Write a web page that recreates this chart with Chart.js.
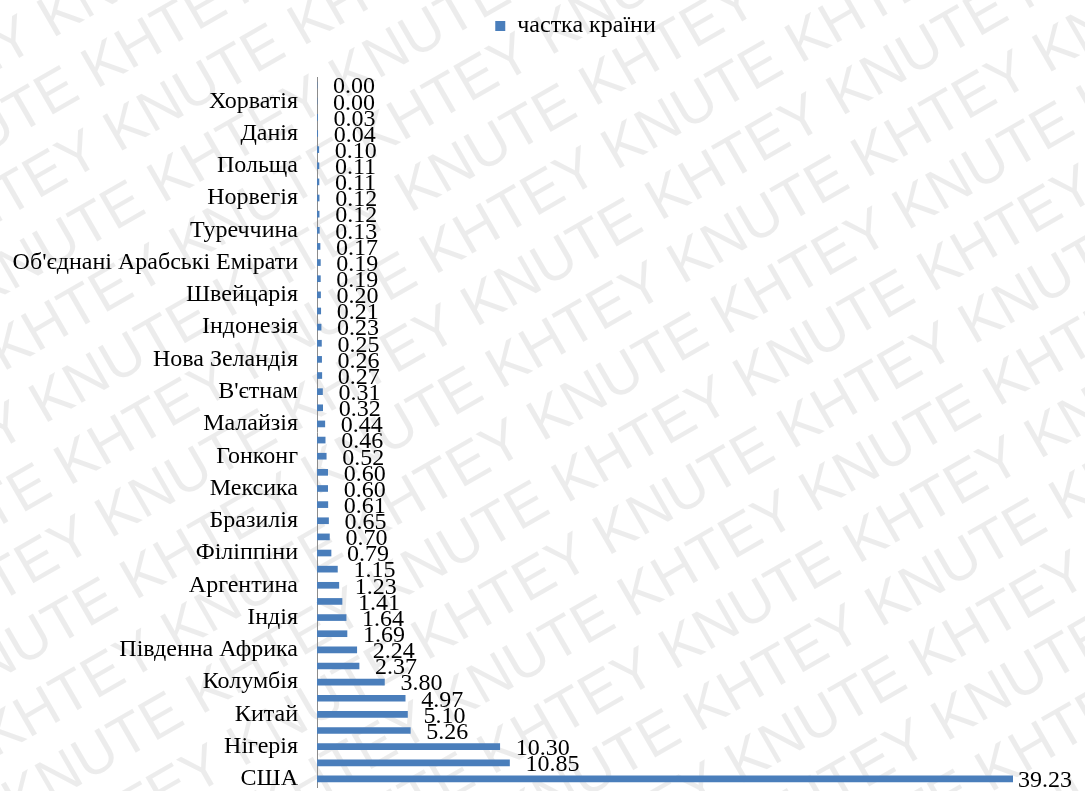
<!DOCTYPE html>
<html>
<head>
<meta charset="utf-8">
<script src="https://cdn.jsdelivr.net/npm/chart.js@4/dist/chart.umd.min.js"></script>
<style>
    html, body { margin: 0; padding: 0; background: #fff; }
    #wrap { width: 1085px; height: 791px; }
</style>
</head>
<body>
<div id="wrap"><canvas id="chart"></canvas></div>
<script>
// Categories, top to bottom (unlabelled rows are skipped in the original)
var countries = [
    '', 'Хорватія', '', 'Данія', '', 'Польща', '', 'Норвегія', '', 'Туреччина',
    '', "Об'єднані Арабські Емірати", '', 'Швейцарія', '', 'Індонезія', '', 'Нова Зеландія', '', "В'єтнам",
    '', 'Малайзія', '', 'Гонконг', '', 'Мексика', '', 'Бразилія', '', 'Філіппіни',
    '', 'Аргентина', '', 'Індія', '', 'Південна Африка', '', 'Колумбія', '', 'Китай',
    '', 'Нігерія', '', 'США'
];

var shares = [
    0.00, 0.00, 0.03, 0.04, 0.10, 0.11, 0.11, 0.12, 0.12, 0.13,
    0.17, 0.19, 0.19, 0.20, 0.21, 0.23, 0.25, 0.26, 0.27, 0.31,
    0.32, 0.44, 0.46, 0.52, 0.60, 0.60, 0.61, 0.65, 0.70, 0.79,
    1.15, 1.23, 1.41, 1.64, 1.69, 2.24, 2.37, 3.80, 4.97, 5.10,
    5.26, 10.30, 10.85, 39.23
];

var seriesName = 'частка країни';
var serif = '"Liberation Serif", "Times New Roman", serif';

Chart.defaults.font.family = serif;
Chart.defaults.color = '#000';

// faint diagonal watermark behind everything
var watermark = {
    id: 'watermark',
    beforeDraw: function(chart) {
        var ctx = chart.ctx;
        ctx.save();
        ctx.fillStyle = '#fff';
        ctx.fillRect(0, 0, chart.width, chart.height);
        ctx.translate(chart.width / 2, chart.height / 2);
        ctx.rotate(-30 * Math.PI / 180);
        ctx.fillStyle = 'rgba(0,0,0,0.075)';
        ctx.font = '58px "Liberation Sans", Arial, sans-serif';
        var line = '';
        for (var i = 0; i < 10; i++) line += 'KHTEY KNUTE ';
        var row = 0;
        for (var y = -900; y < 900; y += 66) {
            ctx.fillText(line, -1500 + (row % 2) * 200, y);
            row++;
        }
        ctx.restore();
    }
};

// value labels at the end of every bar
var valueLabels = {
    id: 'valueLabels',
    afterDatasetsDraw: function(chart) {
        var ctx = chart.ctx;
        var meta = chart.getDatasetMeta(0);
        ctx.save();
        ctx.font = '24px ' + serif;
        ctx.fillStyle = '#000';
        ctx.textBaseline = 'middle';
        ctx.textAlign = 'left';
        meta.data.forEach(function(bar, i) {
            var txt = shares[i].toFixed(2);
            var w = ctx.measureText(txt).width;
            var x = Math.min(bar.x + 16, chart.width - w - 13);
            ctx.fillText(txt, x, bar.y + 2);
        });
        ctx.restore();
    }
};

// extra space below the legend, and legend nudged right like the original
var legendTweak = {
    id: 'legendTweak',
    beforeInit: function(chart) {
        var fit = chart.legend.fit;
        chart.legend.fit = function() {
            fit.bind(chart.legend)();
            this.height += 29;
        };
    },
    afterLayout: function(chart) {
        chart.legend.left += 69;
        chart.legend.right += 69;
    }
};

var ctx = document.getElementById('chart').getContext('2d');
new Chart(ctx, {
    type: 'bar',
    data: {
        labels: countries,
        datasets: [{
            label: seriesName,
            data: shares,
            backgroundColor: '#4a7ebb',
            borderWidth: 0,
            barThickness: 6
        }]
    },
    options: {
        indexAxis: 'y',
        responsive: true,
        maintainAspectRatio: false,
        animation: false,
        layout: {
            padding: { left: 0, right: 72, top: 4, bottom: 4 }
        },
        plugins: {
            legend: {
                position: 'top',
                labels: {
                    font: { family: serif, size: 24 },
                    color: '#000',
                    boxWidth: 10,
                    boxHeight: 10,
                    padding: 10
                }
            },
            tooltip: { enabled: false }
        },
        scales: {
            x: {
                display: false,
                min: 0,
                max: 39.23
            },
            y: {
                afterFit: function(scale) {
                    scale.width = 317;
                    scale.paddingTop = 0;
                    scale.paddingBottom = 0;
                },
                grid: { display: false },
                border: { display: true, color: '#8c8c8c' },
                ticks: {
                    autoSkip: false,
                    color: '#000',
                    padding: 11,
                    font: { family: serif, size: 24 }
                }
            }
        }
    },
    plugins: [watermark, valueLabels, legendTweak]
});
</script>
</body>
</html>
